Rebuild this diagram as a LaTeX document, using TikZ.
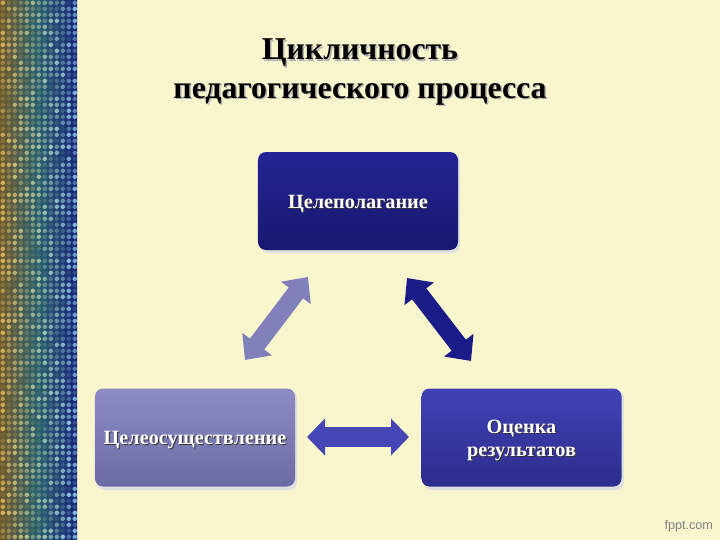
\documentclass[tikz,border=0pt]{standalone}
\usepackage{fontspec}
\setmainfont{Liberation Serif}
\setsansfont{Liberation Sans}
\usetikzlibrary{arrows.meta}
\definecolor{paper}{RGB}{249,246,206}
\definecolor{navytop}{RGB}{36,36,148}
\definecolor{navybot}{RGB}{24,24,112}
\definecolor{lavtop}{RGB}{140,140,196}
\definecolor{lavbot}{RGB}{108,108,164}
\definecolor{royaltop}{RGB}{66,66,182}
\definecolor{royalbot}{RGB}{44,44,140}
\tikzset{
  stagebox/.style={rounded corners=2mm,minimum width=50mm,minimum height=24.5mm,align=center,
    font=\bfseries\fontsize{14.4}{16}\selectfont,text=white},
  blockarrow/.style={line width=4.5mm,{Triangle[length=5mm,width=9mm]}-{Triangle[length=5mm,width=9mm]}},
  wideblock/.style={line width=5mm,{Triangle[length=4.5mm,width=9mm]}-{Triangle[length=4.5mm,width=9mm]}}
}
\begin{document}
\begin{tikzpicture}[x=0.25mm,y=-0.25mm]
\useasboundingbox (0,0) rectangle (720,540);
\fill[paper] (0,0) rectangle (720,540);
% mosaic strip
\shade[left color={rgb,255:red,110;green,90;blue,45},right color={rgb,255:red,25;green,35;blue,120},
  middle color={rgb,255:red,40;green,95;blue,110}] (0,0) rectangle (77,540);
\pgfmathsetseed{7}
\foreach \i in {0,...,12}{
  \foreach \j in {0,...,89}{
    \pgfmathsetmacro\t{\i/12}
    \pgfmathsetmacro\o{0.1+0.7*rnd}
    \pgfmathsetmacro\r{0.95-0.35*\t}
    \pgfmathsetmacro\g{0.8+0.1*\t}
    \pgfmathsetmacro\b{0.4+0.6*\t}
    \definecolor{dotc}{rgb}{\r,\g,\b}
    \fill[dotc,opacity=\o,rounded corners=0.4mm] (\i*6+0.6,\j*6+0.6) rectangle +(4.4,4.4);
  }
}
% title
\node[text=black!30,font=\bfseries\fontsize{22.6}{27.5}\selectfont,align=center] at (361.5,73.5)
  {Цикличность\\педагогического процесса};
\node (title) [font=\bfseries\fontsize{22.6}{27.5}\selectfont,align=center] at (360,72)
  {Цикличность\\педагогического процесса};
% stages
\fill[black!12,rounded corners=2mm] (260,154) rectangle (460,253);
\fill[black!12,rounded corners=2mm] (97,390) rectangle (297,490);
\fill[black!12,rounded corners=2mm] (424,390) rectangle (624,490);
\node (goal) [stagebox,top color=navytop,bottom color=navybot] at (358,201) {};
\node (act) [stagebox,top color=lavtop,bottom color=lavbot] at (195,437.5) {};
\node (eval) [stagebox,top color=royaltop,bottom color=royalbot] at (521.5,437.5) {};
\foreach \n/\s in {goal/Целеполагание,act/Целеосуществление,eval/Оценка\\результатов}{
  \node[stagebox,text=black!80] at ([shift={(1,4)}]\n.center) {\s};
  \node[stagebox] at ([shift={(0,3)}]\n.center) {\s};
}
% arrows
\coordinate (goalL) at (308,277);
\coordinate (actU) at (245,360);
\coordinate (goalR) at (407,278);
\coordinate (evalU) at (471,361);
\coordinate (actR) at (307,437);
\coordinate (evalL) at (409,437);
\draw[blockarrow,color={rgb,255:red,128;green,128;blue,186}] (actU) -- (goalL);
\draw[blockarrow,color={rgb,255:red,28;green,28;blue,136}] (goalR) -- (evalU);
\draw[wideblock,color={rgb,255:red,70;green,70;blue,182}] (actR) -- (evalL);
\node[text=black!50,font=\sffamily\fontsize{9}{10}\selectfont,anchor=south east] at (718,537) {fppt.com};
\end{tikzpicture}
\end{document}
